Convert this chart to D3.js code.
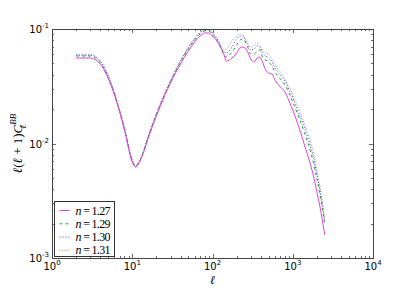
<!DOCTYPE html>
<html>
<head>
<meta charset="utf-8">
<script src="https://cdn.jsdelivr.net/npm/d3@7/dist/d3.min.js"></script>
<style>
  html, body { margin: 0; padding: 0; background: #fff; }
  svg { display: block; }
  .tick-label { font-family: "DejaVu Sans", sans-serif; font-size: 10px; fill: #000; }
  .math { font-family: "Liberation Serif", "DejaVu Serif", serif; font-style: italic; fill: #000; }
</style>
</head>
<body>
<div id="chart"></div>
<script>
// multipole moments, shared by all series
var ells = [2, 3, 4, 5, 6, 8, 10, 11, 13, 16, 20, 25, 30, 40, 50, 60, 70, 80, 90, 100,
  120, 135, 150, 175, 200, 220, 240, 270, 300, 330, 360, 390, 420, 460, 500, 550, 600,
  700, 800, 900, 1000, 1200, 1400, 1600, 1800, 2000, 2200, 2500];

var labels = ["n=1.27", "n=1.29", "n=1.30", "n=1.31"];

var cl127 = [0.0558, 0.0558, 0.0495, 0.0373, 0.0265, 0.0131, 0.00689, 0.00623, 0.00747, 0.0114,
  0.0174, 0.0255, 0.0338, 0.0495, 0.0643, 0.0770, 0.0869, 0.0923, 0.0923, 0.0869,
  0.0740, 0.0630, 0.0525, 0.0558, 0.0617, 0.0683, 0.0696, 0.0643, 0.0547, 0.0515,
  0.0558, 0.0569, 0.0515, 0.0439, 0.0413, 0.0405, 0.0359, 0.0311, 0.0282, 0.0235,
  0.0196, 0.0137, 0.00970, 0.00718, 0.00531, 0.00377, 0.00273, 0.00159];

var cl129 = [0.0581, 0.0581, 0.0505, 0.0381, 0.0271, 0.0134, 0.00703, 0.00636, 0.00762, 0.0116,
  0.0177, 0.0260, 0.0344, 0.0515, 0.0669, 0.0802, 0.0904, 0.0961, 0.0961, 0.0886,
  0.0755, 0.0617, 0.0569, 0.0630, 0.0725, 0.0802, 0.0818, 0.0711, 0.0605, 0.0605,
  0.0643, 0.0656, 0.0569, 0.0536, 0.0515, 0.0475, 0.0421, 0.0366, 0.0324, 0.0276,
  0.0230, 0.0167, 0.0124, 0.00932, 0.00689, 0.00490, 0.00348, 0.00202];

var cl130 = [0.0593, 0.0593, 0.0525, 0.0389, 0.0276, 0.0137, 0.00718, 0.00636, 0.00762, 0.0119,
  0.0181, 0.0265, 0.0351, 0.0525, 0.0683, 0.0818, 0.0923, 0.0980, 0.0980, 0.0923,
  0.0770, 0.0643, 0.0617, 0.0696, 0.0818, 0.0869, 0.0869, 0.0740, 0.0656, 0.0669,
  0.0711, 0.0696, 0.0617, 0.0581, 0.0558, 0.0515, 0.0456, 0.0397, 0.0351, 0.0293,
  0.0250, 0.0181, 0.0137, 0.0103, 0.00762, 0.00531, 0.00377, 0.00210];

var cl131 = [0.0593, 0.0593, 0.0525, 0.0397, 0.0276, 0.0137, 0.00718, 0.00636, 0.00762, 0.0119,
  0.0185, 0.0271, 0.0359, 0.0536, 0.0696, 0.0835, 0.0941, 0.0995, 0.0995, 0.0923,
  0.0770, 0.0656, 0.0669, 0.0786, 0.0869, 0.0904, 0.0886, 0.0770, 0.0696, 0.0725,
  0.0755, 0.0725, 0.0643, 0.0617, 0.0605, 0.0547, 0.0485, 0.0421, 0.0366, 0.0311,
  0.0265, 0.0196, 0.0148, 0.0114, 0.00843, 0.00587, 0.00409, 0.00215];

var xTicks = [1, 10, 100, 1000, 10000];
var xTickExp = ["0", "1", "2", "3", "4"];
var yTicks = [0.001, 0.01, 0.1];
var yTickExp = ["-3", "-2", "-1"];

var series = [
  { label: labels[0], values: cl127, color: "#e040e0", dash: null, width: 1 },
  { label: labels[1], values: cl129, color: "#3a9a3a", dash: "3,3", width: 1 },
  { label: labels[2], values: cl130, color: "#3a3aee", dash: "1,2", width: 1 },
  { label: labels[3], values: cl131, color: "#999999", dash: "1,1.5", width: 1 }
];

var width = 415, height = 288;
var margins = { top: 29, right: 42, bottom: 30, left: 52 };
var plotW = width - margins.left - margins.right;
var plotH = height - margins.top - margins.bottom;

var svg = d3.select("#chart").append("svg")
  .attr("width", width)
  .attr("height", height);

var xScale = d3.scaleLog().domain([1, 1e4]).range([margins.left, margins.left + plotW]);
var yScale = d3.scaleLog().domain([1e-3, 1e-1]).range([margins.top + plotH, margins.top]);

svg.append("clipPath").attr("id", "plot-clip")
  .append("rect")
  .attr("x", margins.left).attr("y", margins.top)
  .attr("width", plotW).attr("height", plotH);

// Lines
var line = d3.line()
  .x(function(d) { return xScale(d[0]); })
  .y(function(d) { return yScale(d[1]); })
  .curve(d3.curveMonotoneX);

var linesG = svg.append("g").attr("clip-path", "url(#plot-clip)");
series.slice().reverse().forEach(function(s) {
  linesG.append("path")
    .datum(ells.map(function(l, i) { return [l, s.values[i]]; }))
    .attr("d", line)
    .attr("fill", "none")
    .attr("stroke", s.color)
    .attr("stroke-width", s.width)
    .attr("stroke-dasharray", s.dash);
});

// Minor and major ticks, pointing inward on all four sides
var axisColor = "#444";
var ticksG = svg.append("g").attr("stroke", axisColor).attr("stroke-width", 0.8);
var x0 = xScale.range()[0], x1 = xScale.range()[1];
var y0 = yScale.range()[0], y1 = yScale.range()[1];

xScale.ticks().forEach(function(t) {
  var major = xTicks.indexOf(t) >= 0;
  var len = major ? 4 : 2;
  var x = Math.round(xScale(t)) + 0.5;
  ticksG.append("line").attr("x1", x).attr("x2", x).attr("y1", y0).attr("y2", y0 - len);
  ticksG.append("line").attr("x1", x).attr("x2", x).attr("y1", y1).attr("y2", y1 + len);
});

yScale.ticks().forEach(function(t) {
  var major = yTicks.some(function(m) { return Math.abs(m - t) / m < 1e-6; });
  var len = major ? 4 : 2;
  var y = Math.round(yScale(t)) + 0.5;
  ticksG.append("line").attr("x1", x0).attr("x2", x0 + len).attr("y1", y).attr("y2", y);
  ticksG.append("line").attr("x1", x1).attr("x2", x1 - len).attr("y1", y).attr("y2", y);
});

// Frame
svg.append("rect")
  .attr("x", x0 + 0.5).attr("y", y1 + 0.5)
  .attr("width", x1 - x0).attr("height", y0 - y1)
  .attr("fill", "none")
  .attr("stroke", axisColor)
  .attr("stroke-width", 1);

// Tick labels
xTicks.forEach(function(t, i) {
  var txt = svg.append("text")
    .attr("class", "tick-label")
    .attr("x", xScale(t))
    .attr("y", y0 + 12)
    .attr("text-anchor", "middle");
  txt.append("tspan").text("10");
  txt.append("tspan").attr("dy", -5).attr("font-size", 7).text(xTickExp[i]);
});

yTicks.forEach(function(t, i) {
  var txt = svg.append("text")
    .attr("class", "tick-label")
    .attr("x", x0 - 3)
    .attr("y", yScale(t) + 4)
    .attr("text-anchor", "end");
  txt.append("tspan").text("10");
  txt.append("tspan").attr("dy", -5).attr("font-size", 7).text(yTickExp[i]);
});

// Axis titles
svg.append("text")
  .attr("class", "math")
  .attr("x", (x0 + x1) / 2)
  .attr("y", 284)
  .attr("text-anchor", "middle")
  .attr("font-size", 12)
  .text("ℓ");

var yTitle = svg.append("text")
  .attr("class", "math")
  .attr("transform", "translate(22," + ((y0 + y1) / 2) + ") rotate(-90)")
  .attr("text-anchor", "middle")
  .attr("font-size", 13);
yTitle.append("tspan").text("ℓ");
yTitle.append("tspan").attr("font-style", "normal").text("(");
yTitle.append("tspan").text("ℓ");
yTitle.append("tspan").attr("font-style", "normal").text(" + 1)");
yTitle.append("tspan").text("C");
yTitle.append("tspan").attr("font-size", 9).attr("dy", -6).text("BB");
yTitle.append("tspan").attr("font-size", 9).attr("dx", -15).attr("dy", 10).text("ℓ");
yTitle.append("tspan").attr("font-size", 9).attr("dy", -4).text("\u2009\u2009\u2009");

// Legend
var legend = svg.append("g").attr("transform", "translate(54.5,201.5)");
legend.append("rect")
  .attr("width", 60).attr("height", 55)
  .attr("fill", "#fff")
  .attr("stroke", "#333")
  .attr("stroke-width", 1);

series.forEach(function(s, i) {
  var y = 9 + i * 13.3;
  legend.append("line")
    .attr("x1", 5).attr("x2", 15)
    .attr("y1", y).attr("y2", y)
    .attr("stroke", s.color)
    .attr("stroke-width", s.width)
    .attr("stroke-dasharray", s.dash);
  var parts = s.label.split("=");
  var t = legend.append("text")
    .attr("class", "math")
    .attr("x", 21)
    .attr("y", y + 4)
    .attr("font-size", 12)
    .attr("textLength", 35);
  t.append("tspan").text(parts[0]);
  t.append("tspan").attr("font-style", "normal").text(" = " + parts[1]);
});
</script>
</body>
</html>
